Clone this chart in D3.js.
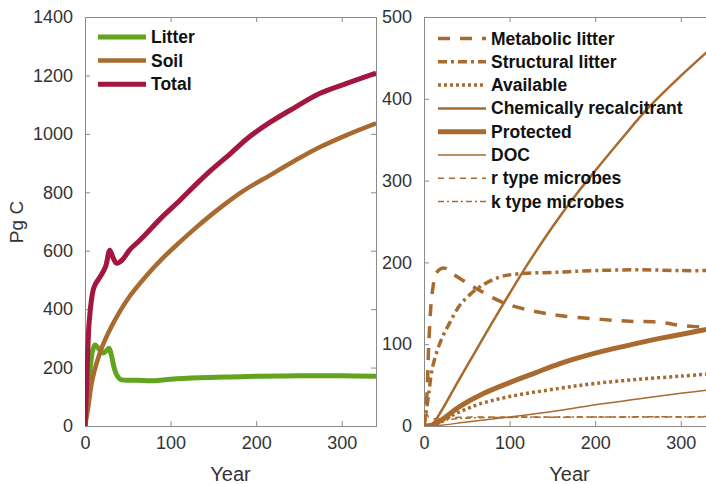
<!DOCTYPE html>
<html>
<head>
<meta charset="utf-8">
<script src="https://cdn.jsdelivr.net/npm/d3@7"></script>
<style>
  body { margin: 0; background: #fff; overflow: hidden; }
  text { font-family: "Liberation Sans", Arial, sans-serif; }
</style>
</head>
<body>
<script>
// Left panel: litter, soil, total (Pg C)
var totalYears  = [0, 2, 5, 9.5, 12, 17.5, 24, 29, 33, 37, 44, 52, 64, 72, 90, 111, 130, 149, 169, 190, 216, 245, 274, 305, 340];
var totalValues = [0, 150, 360, 465, 485, 510, 545, 602, 575, 557, 570, 602, 636, 660, 715, 773, 828, 880, 930, 985, 1039, 1090, 1138, 1172, 1208];
var soilYears   = [0, 3.5, 8, 14, 22, 33, 50, 72, 90, 111, 130, 157, 185, 216, 245, 274, 305, 340];
var soilValues  = [0, 60, 150, 220, 285, 352, 435, 515, 572, 630, 680, 745, 805, 858, 908, 954, 995, 1036];
var litterYears  = [0, 4, 9, 11.7, 15, 21, 25, 28, 31, 34, 37, 41, 45, 60, 80, 100, 134, 170, 200, 250, 300, 340];
var litterValues = [0, 130, 260, 277, 268, 250, 258, 266, 240, 200, 175, 160, 157, 157, 155, 160, 165, 168, 170, 172, 172, 170];

// Right panel: pools (Pg C)
var metabolicYears  = [0, 3, 6, 10, 15, 24, 35, 50, 63, 80, 100, 130, 158, 200, 240, 274, 300, 340];
var metabolicValues = [0, 30, 110, 166, 188, 193, 185, 175, 167, 157, 148, 140, 135, 131, 128, 127, 123, 120];
var structuralYears  = [0, 5, 10, 20, 30, 40, 50, 65, 88, 110, 155, 200, 250, 300, 340];
var structuralValues = [0, 35, 72, 105, 126, 145, 157, 170, 182, 186, 188, 190, 191, 190, 190];
var availableYears  = [0, 10, 20, 35, 50, 65, 100, 158, 200, 250, 300, 340];
var availableValues = [0, 1, 5, 14, 21, 27, 36, 46, 52, 57, 61, 64];
var recalcYears  = [0, 10, 20, 40, 60, 80, 100, 120, 140, 160, 180, 200, 230, 263, 300, 340];
var recalcValues = [0, 3, 18, 55, 91, 127, 162, 196, 228, 258, 286, 312, 350, 390, 428, 466];
var protectedYears  = [0, 10, 20, 42, 70, 100, 130, 158, 200, 236, 280, 325, 340];
var protectedValues = [0, 1, 7, 24, 40, 53, 65, 76, 89, 98, 108, 117, 120];
var docYears  = [0, 20, 50, 100, 158, 200, 250, 300, 340];
var docValues = [0, 1, 5, 11, 19, 26, 33, 40, 45];
var rTypeYears  = [0, 3, 6, 15, 30, 60, 100, 200, 340];
var rTypeValues = [0, 15, 10, 9, 10, 11, 11, 11, 11];
var kTypeYears  = [0, 10, 25, 40, 60, 100, 200, 340];
var kTypeValues = [0, 3, 7, 9, 10, 10.5, 11, 11.5];

var leftTicksY = [0, 200, 400, 600, 800, 1000, 1200, 1400];
var rightTicksY = [0, 100, 200, 300, 400, 500];
var ticksX = [0, 100, 200, 300];

var brown = "#A86A2E", green = "#63A41E", crimson = "#A3163F";

var svg = d3.select("body").append("svg")
    .attr("width", 706)
    .attr("height", 484);

function pairs(xs, ys) {
    return xs.map(function (x, i) { return [x, ys[i]]; });
}

function buildPanel(id, left, right, yMax, yTicks) {
    var top = 17, bottom = 426;
    var x = d3.scaleLinear().domain([0, 340]).range([left, right]);
    var y = d3.scaleLinear().domain([0, yMax]).range([bottom, top]);
    var g = svg.append("g");

    g.append("clipPath").attr("id", id)
        .append("rect")
        .attr("x", left).attr("y", top)
        .attr("width", right - left).attr("height", bottom - top);

    // box + inward ticks on all sides
    var axisColor = "#8a8a8a";
    g.append("rect")
        .attr("x", left + 0.5).attr("y", top + 0.5)
        .attr("width", right - left).attr("height", bottom - top)
        .attr("fill", "none").attr("stroke", axisColor);

    var fmt = d3.format("d");
    g.append("g").attr("transform", "translate(0," + bottom + ")")
        .call(d3.axisBottom(x).tickValues(ticksX).tickSizeInner(-5).tickSizeOuter(0).tickPadding(10).tickFormat(fmt))
        .call(function (a) { a.select(".domain").remove(); });
    g.append("g").attr("transform", "translate(0," + top + ")")
        .call(d3.axisTop(x).tickValues(ticksX).tickSizeInner(-5).tickSizeOuter(0).tickFormat(""))
        .call(function (a) { a.select(".domain").remove(); });
    g.append("g").attr("transform", "translate(" + left + ",0)")
        .call(d3.axisLeft(y).tickValues(yTicks).tickSizeInner(-5).tickSizeOuter(0).tickPadding(12).tickFormat(fmt))
        .call(function (a) { a.select(".domain").remove(); });
    g.append("g").attr("transform", "translate(" + right + ",0)")
        .call(d3.axisRight(y).tickValues(yTicks).tickSizeInner(-5).tickSizeOuter(0).tickFormat(""))
        .call(function (a) { a.select(".domain").remove(); });

    g.selectAll(".tick line").attr("stroke", axisColor);
    g.selectAll(".tick text")
        .attr("fill", "#333")
        .style("font-size", "18px")
        .style("font-family", "'Liberation Sans', Arial, sans-serif");

    g.append("text")
        .attr("x", (left + right) / 2)
        .attr("y", 481)
        .attr("text-anchor", "middle")
        .attr("fill", "#333")
        .style("font-size", "20px")
        .text("Year");

    var lines = g.append("g").attr("clip-path", "url(#" + id + ")");
    return { x: x, y: y, g: g, lines: lines };
}

var leftPanel = buildPanel("clipL", 85, 376, 1400, leftTicksY);
var rightPanel = buildPanel("clipR", 424, 715, 500, rightTicksY);

svg.append("text")
    .attr("transform", "translate(23,222) rotate(-90)")
    .attr("text-anchor", "middle")
    .attr("fill", "#333")
    .style("font-size", "19px")
    .text("Pg C");

function drawLine(panel, xs, ys, style) {
    var line = d3.line()
        .x(function (d) { return panel.x(d[0]); })
        .y(function (d) { return panel.y(d[1]); })
        .curve(d3.curveCatmullRom.alpha(0.5));
    panel.lines.append("path")
        .datum(pairs(xs, ys))
        .attr("fill", "none")
        .attr("stroke", style.color)
        .attr("stroke-width", style.width)
        .attr("stroke-dasharray", style.dash || null)
        .attr("stroke-linejoin", "round")
        .attr("d", line);
}

var leftSeries = [
    { name: "Litter", xs: litterYears, ys: litterValues, color: green, width: 5 },
    { name: "Soil", xs: soilYears, ys: soilValues, color: brown, width: 4.5 },
    { name: "Total", xs: totalYears, ys: totalValues, color: crimson, width: 5 }
];
leftSeries.forEach(function (s) { drawLine(leftPanel, s.xs, s.ys, s); });

var rightSeries = [
    { name: "Metabolic litter", xs: metabolicYears, ys: metabolicValues, color: brown, width: 3.5, dash: "12,10" },
    { name: "Structural litter", xs: structuralYears, ys: structuralValues, color: brown, width: 3.5, dash: "9,4,3,4" },
    { name: "Available", xs: availableYears, ys: availableValues, color: brown, width: 3.5, dash: "3,3" },
    { name: "Chemically recalcitrant", xs: recalcYears, ys: recalcValues, color: brown, width: 2.5 },
    { name: "Protected", xs: protectedYears, ys: protectedValues, color: brown, width: 5 },
    { name: "DOC", xs: docYears, ys: docValues, color: brown, width: 1.5 },
    { name: "r type microbes", xs: rTypeYears, ys: rTypeValues, color: brown, width: 1.5, dash: "6,5" },
    { name: "k type microbes", xs: kTypeYears, ys: kTypeValues, color: brown, width: 1.5, dash: "6,3,2,3" }
];
rightSeries.forEach(function (s) { drawLine(rightPanel, s.xs, s.ys, s); });

// Legends
function drawLegend(series, x0, y0, step) {
    var lg = svg.append("g").attr("class", "legend");
    series.forEach(function (s, i) {
        var yy = y0 + i * step;
        lg.append("line")
            .attr("x1", x0).attr("x2", x0 + 48)
            .attr("y1", yy).attr("y2", yy)
            .attr("stroke", s.color)
            .attr("stroke-width", s.width)
            .attr("stroke-dasharray", s.dash || null);
        lg.append("text")
            .attr("x", x0 + 53)
            .attr("y", yy + 6)
            .attr("fill", "#111")
            .style("font-size", "17.5px")
            .style("font-weight", "bold")
            .text(s.name);
    });
}
drawLegend(leftSeries, 98, 37, 23.6);
drawLegend(rightSeries, 438, 38.5, 23.3);
</script>
</body>
</html>
